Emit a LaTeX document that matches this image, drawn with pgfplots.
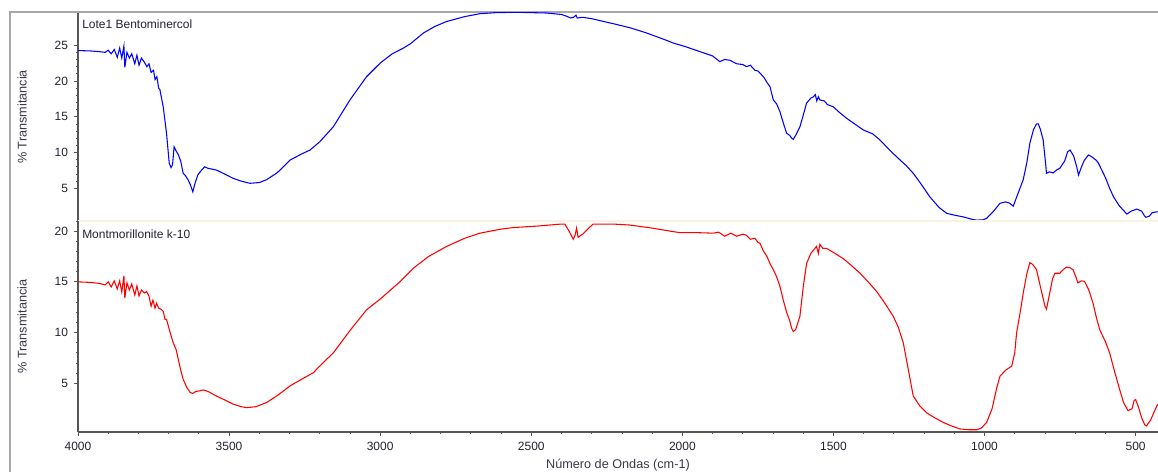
\documentclass[border=0pt]{standalone}
\usepackage{pgfplots}
\pgfplotsset{compat=1.18}
\usepackage{pgfplotstable}
\usepackage{fontspec}
\setmainfont{Liberation Sans}
\definecolor{axgray}{HTML}{555555}
\definecolor{framegray}{HTML}{A8A8A8}
\definecolor{sepcream}{HTML}{FBF2E2}
\definecolor{txt}{HTML}{222233}

\pgfplotstableread{
x y
4000 24.25
3960 24.2
3930 24.1
3910 24.0
3900 24.3
3890 23.8
3880 24.4
3870 23.3
3862 24.6
3855 23.2
3848 24.9
3845 21.9
3838 24.0
3830 23.2
3822 23.8
3812 22.4
3805 23.6
3798 22.2
3790 23.2
3780 22.6
3772 22.0
3765 22.4
3758 21.2
3750 21.5
3745 20.2
3739 20.6
3733 19.0
3729 18.8
3718 16.4
3707 12.7
3698 8.5
3692 7.9
3687 8.3
3682 10.8
3675 10.2
3668 9.7
3660 8.8
3652 7.1
3645 6.8
3636 6.2
3628 5.5
3620 4.5
3612 5.8
3603 6.9
3590 7.6
3581 8.0
3570 7.8
3542 7.55
3510 6.9
3487 6.4
3460 6.0
3431 5.7
3400 5.8
3376 6.2
3340 7.2
3298 8.95
3260 9.8
3232 10.35
3200 11.5
3155 13.6
3100 17.35
3045 20.6
3000 22.5
2960 23.8
2923 24.6
2900 25.2
2857 26.7
2820 27.6
2781 28.3
2720 29.0
2670 29.4
2617 29.55
2550 29.6
2451 29.5
2400 29.3
2380 29.0
2370 28.8
2360 28.9
2352 29.2
2348 28.8
2330 28.9
2300 28.7
2228 28.0
2170 27.4
2118 26.7
2060 25.8
2030 25.3
1990 24.8
1942 24.1
1900 23.5
1876 22.7
1860 23.0
1843 22.9
1820 22.4
1800 22.3
1788 22.0
1775 22.2
1760 21.5
1750 21.4
1743 21.1
1730 20.5
1720 19.8
1710 19.2
1699 17.35
1688 16.8
1677 15.7
1665 14.0
1655 12.7
1645 12.4
1638 12.0
1633 11.85
1625 12.4
1611 13.6
1600 15.2
1589 16.9
1575 17.6
1566 17.8
1560 18.1
1555 17.2
1550 17.8
1545 17.35
1530 17.2
1520 16.7
1501 16.4
1480 15.6
1457 14.8
1430 14.0
1401 13.15
1370 12.6
1346 11.75
1320 10.6
1291 9.4
1260 8.2
1236 7.1
1210 5.6
1181 3.8
1150 2.3
1125 1.5
1100 1.25
1070 1.0
1040 0.65
1026 0.55
1005 0.6
993 0.8
970 1.8
949 2.9
930 3.1
916 2.9
905 2.5
890 4.2
872 6.2
860 8.6
850 11.3
838 13.2
828 14.0
822 14.0
815 13.2
806 11.75
798 8.5
795 7.1
785 7.3
773 7.15
760 7.6
751 7.8
735 8.8
725 10.1
717 10.35
705 9.5
695 8.0
689 6.85
680 7.9
670 8.9
656 9.65
645 9.4
630 8.9
623 8.5
600 6.5
585 4.9
573 3.8
555 2.6
540 1.9
529 1.4
515 1.8
496 2.1
480 1.8
470 1.1
466 0.95
455 1.1
445 1.6
431 1.7
426 1.7
}\bluedata

\pgfplotstableread{
x y
4000 15.0
3960 14.95
3930 14.85
3910 14.7
3900 15.0
3890 14.5
3880 15.1
3870 14.3
3862 15.1
3855 14.0
3848 15.6
3845 13.4
3838 14.9
3830 14.2
3822 14.8
3812 13.7
3805 14.6
3798 13.6
3790 14.2
3780 13.9
3773 14.05
3765 13.6
3758 12.6
3752 13.2
3745 12.4
3740 12.9
3733 12.4
3725 12.3
3718 12.1
3712 11.3
3707 11.3
3695 10.0
3685 9.0
3675 8.3
3668 7.35
3660 6.3
3652 5.4
3640 4.6
3629 4.1
3620 4.0
3610 4.2
3598 4.25
3585 4.35
3570 4.2
3542 3.75
3510 3.3
3487 2.95
3460 2.7
3442 2.6
3410 2.7
3376 3.1
3340 3.8
3298 4.75
3260 5.4
3221 6.05
3190 7.0
3155 8.0
3100 10.2
3045 12.25
3000 13.3
2935 15.0
2890 16.35
2840 17.5
2780 18.5
2720 19.3
2670 19.8
2600 20.2
2560 20.35
2480 20.5
2400 20.7
2389 20.7
2375 20.0
2361 19.2
2355 19.6
2350 20.3
2345 19.4
2330 19.7
2310 20.3
2295 20.7
2230 20.7
2173 20.6
2100 20.3
2040 20.0
2008 19.85
1950 19.85
1898 19.8
1880 19.9
1860 19.5
1840 19.8
1820 19.5
1800 19.7
1788 19.6
1775 19.2
1760 19.3
1750 18.9
1743 18.8
1733 18.1
1720 17.5
1710 16.8
1699 16.2
1688 15.5
1677 14.55
1666 13.2
1655 12.0
1645 11.2
1638 10.4
1633 10.1
1625 10.3
1611 11.6
1600 14.5
1589 16.8
1575 17.8
1556 18.5
1550 17.8
1545 18.7
1535 18.3
1523 18.3
1500 17.9
1468 17.3
1440 16.6
1412 15.85
1385 15.0
1357 14.05
1330 12.9
1302 11.6
1285 10.5
1269 9.0
1250 6.0
1236 3.75
1215 2.8
1192 2.1
1165 1.6
1137 1.15
1110 0.8
1081 0.5
1050 0.42
1026 0.42
1010 0.6
993 1.15
975 2.5
960 4.5
949 5.7
930 6.3
910 6.7
900 8.0
894 9.95
882 12.0
872 13.9
860 15.8
850 16.9
840 16.7
828 16.2
815 14.5
800 12.6
795 12.3
785 13.8
775 15.3
767 15.85
751 15.85
740 16.2
729 16.45
718 16.4
707 16.2
698 15.5
691 14.9
680 15.1
669 15.05
655 14.2
641 12.9
630 11.5
619 10.3
600 9.1
586 8.0
570 6.2
553 4.4
540 3.1
525 2.3
512 2.5
505 3.3
500 3.4
490 2.6
480 1.6
470 0.9
464 0.8
450 1.4
437 2.3
427 2.95
}\reddata

\pgfplotsset{
  panel/.style={
    scale only axis,
    width=810pt,
    xmin=426, xmax=4000,
    x dir=reverse,
    axis line style={axgray, line width=0.9pt},
    tick style={axgray, line width=0.6pt},
    tick align=outside,
    major tick length=3pt,
    minor tick length=1.5pt,
    minor y tick num=4,
    ytick={5,10,15,20,25},
    /pgf/number format/assume math mode=true,
    /pgf/number format/1000 sep={},
    tick label style={font=\fontsize{9}{10}\selectfont, text=txt},
    yticklabel style={xshift=-1pt},
    ylabel={\% Transmitancia},
    every axis y label/.style={at={(axis description cs:0,0.5)}, rotate=90, anchor=center, yshift=42pt, font=\fontsize{9.5}{11}\selectfont, text=txt!90},
    every axis plot/.append style={line width=0.8pt},
  },
}

\begin{document}
\begin{tikzpicture}[x=0.75pt,y=0.75pt]
\path[use as bounding box] (0,0) rectangle (1158,472);
\draw[framegray, line width=1.5pt] (10,0) -- (10,459.5) -- (1158,459.5);

\begin{axis}[panel,
  name=top,
  at={(58.5pt,344.25pt)}, anchor=north west,
  height=156pt,
  ymin=0.43, ymax=29.5,
  axis y line*=left, axis x line=none,
]
\addplot[blue, no markers] table[x=x,y=y] {\bluedata};
\node[anchor=north west, inner sep=0pt, font=\fontsize{9}{10}\selectfont, text=txt] at (rel axis cs:0,1) [xshift=3pt, yshift=-5pt] {Lote1 Bentominercol};
\end{axis}

\draw[sepcream, line width=1.5pt] (78,251) -- (1158,251);

\begin{axis}[panel,
  name=bot,
  at={(58.5pt,188.25pt)}, anchor=north west,
  height=158.25pt,
  ymin=0.2, ymax=21.0,
  axis y line*=left, axis x line*=bottom,
  xtick={500,1000,...,4000},
  minor x tick num=4,
  xticklabel style={yshift=-1pt},
  xlabel={N\'umero de Ondas (cm-1)},
  every axis x label/.style={at={(axis description cs:0.5,0)}, anchor=center, yshift=-24.75pt, font=\fontsize{9.5}{11}\selectfont, text=txt!90},
]
\addplot[red, no markers] table[x=x,y=y] {\reddata};
\node[anchor=north west, inner sep=0pt, font=\fontsize{9}{10}\selectfont, text=txt] at (rel axis cs:0,1) [xshift=3pt, yshift=-6.5pt] {Montmorillonite k-10};
\end{axis}
\end{tikzpicture}
\end{document}
